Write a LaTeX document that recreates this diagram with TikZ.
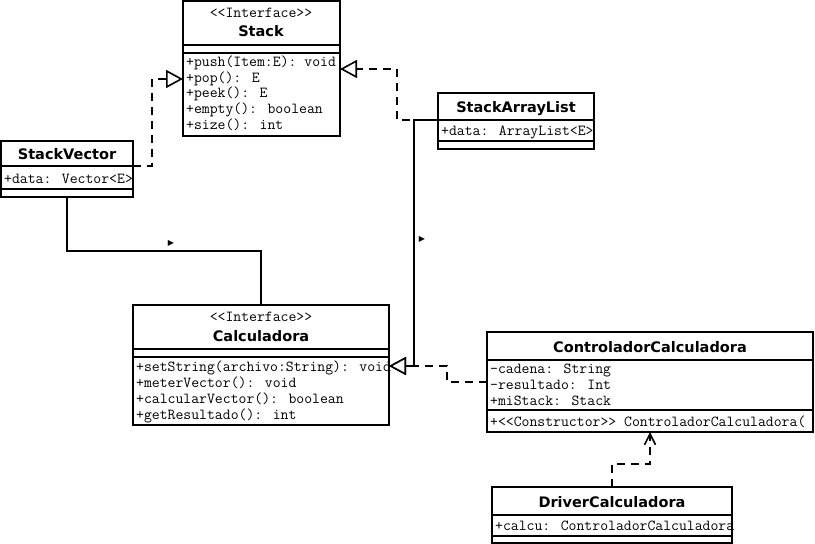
\documentclass[tikz,border=0pt]{standalone}
\usepackage{fontspec}
\newfontfamily\namefont{DejaVu Sans}
\usetikzlibrary{arrows.meta,positioning}

\tikzset{
  classbox/.style={draw, line width=1.6pt, anchor=north west, inner sep=0pt, outer sep=0pt},
  sepline/.style={line width=1.6pt},
  cname/.style={font=\namefont\bfseries\fontsize{14.5}{17}\selectfont, inner sep=0pt, anchor=base},
  stereo/.style={font=\ttfamily\fontsize{15.3}{18}\selectfont, inner sep=0pt, anchor=base},
  member/.style={font=\ttfamily\fontsize{15.3}{18}\selectfont, inner sep=0pt, anchor=base west},
  conn/.style={line width=1.6pt},
  realize/.style={conn, dash pattern=on 8pt off 6pt},
  hollow/.style={-{Triangle[length=17pt,width=18pt,fill=white,line width=1.6pt]}},
  openhead/.style={-{Straight Barb[length=11pt,width=11pt,line width=1.6pt]}},
  dirmark/.style={font=\namefont\fontsize{8}{8}\selectfont, inner sep=0pt}
}

\begin{document}
\begin{tikzpicture}[x=1pt,y=-1pt]
  \useasboundingbox (0,0) rectangle (815,544);

  % -- Class frames --
  \node[classbox, minimum width=157pt, minimum height=135pt] (stack) at (183,1) {};
  \node[classbox, minimum width=132pt, minimum height=56pt] (svec) at (1,141) {};
  \node[classbox, minimum width=156pt, minimum height=56pt] (sarr) at (438,93) {};
  \node[classbox, minimum width=256pt, minimum height=120pt] (calc) at (133,305) {};
  \node[classbox, minimum width=326pt, minimum height=100pt] (ctrl) at (487,332) {};
  \node[classbox, minimum width=240pt, minimum height=56pt] (drv) at (492,487) {};

  % -- Compartment lines (offset from the top of each frame) --
  \foreach \c/\d in {stack/44, stack/52, svec/25, svec/48, sarr/27, sarr/48,
                     calc/44, calc/52, ctrl/28, ctrl/78, drv/28, drv/49}
    \draw[sepline] ([yshift=-\d pt]\c.north west) -- ([yshift=-\d pt]\c.north east);

  % -- Stereotypes and class names --
  \node[stereo] (stackst) at (261,17) {<<Interface>>};
  \node[cname] (stackname) at (261,36) {Stack};
  \node[cname] (svecname) at (67,159) {StackVector};
  \node[cname] (sarrname) at (516,112) {StackArrayList};
  \node[stereo] (calcst) at (261,321) {<<Interface>>};
  \node[cname] (calcname) at (261,341) {Calculadora};
  \node[cname] (ctrlname) at (650,352) {ControladorCalculadora};
  \node[cname] (drvname) at (612,507) {DriverCalculadora};

  % -- Members --
  \foreach \y/\t [count=\i] in {66/{+push(Item:E): void}, 82/{+pop(): E}, 97/{+peek(): E},
                                113/{+empty(): boolean}, 129/{+size(): int}}
    \node[member] (stackm\i) at (186,\y) {\t};
  \node[member] (sveca) at (4,183) {+data: Vector<E>};
  \node[member] (sarra) at (441,135) {+data: ArrayList<E>};
  \foreach \y/\t [count=\i] in {371/{+setString(archivo:String): void}, 387/{+meterVector(): void},
                                403/{+calcularVector(): boolean}, 419/{+getResultado(): int}}
    \node[member] (calcm\i) at (136,\y) {\t};
  \foreach \y/\t [count=\i] in {373/{-cadena: String}, 389/{-resultado: Int}, 405/{+miStack: Stack}}
    \node[member] (ctrla\i) at (490,\y) {\t};
  \node[member] (ctrlm) at (490,426) {+<<Constructor>> ControladorCalculadora(};
  \node[member] (drva) at (495,530) {+calcu: ControladorCalculadora};

  % -- Connectors --
  % StackVector and StackArrayList realize Stack
  \draw[realize, hollow] ([yshift=-25pt]svec.north east) -- ++(19,0) |- ([yshift=-78pt]stack.north west);
  \draw[realize, hollow] ([yshift=-27pt]sarr.north west) -- ++(-41,0) |- ([yshift=-68pt]stack.north east);
  % links into Calculadora
  \draw[conn] (svec.south) -- ++(0,54) -| (calc.north);
  \draw[conn, hollow] ([yshift=-27pt]sarr.north west) -- ++(-24,0) |- ([yshift=-61pt]calc.north east);
  \draw[realize, hollow] ([yshift=-50pt]ctrl.north west) -- ++(-40,0) |- ([yshift=-61pt]calc.north east);
  % DriverCalculadora uses ControladorCalculadora
  \draw[realize, openhead] (drv.north) -- ++(0,-23) -| (ctrl.south);

  % -- Direction marks beside the solid links --
  \node[dirmark] (svecmark) at (171,243) {▶};
  \node[dirmark] (sarrmark) at (422,239) {▶};

\end{tikzpicture}
\end{document}
